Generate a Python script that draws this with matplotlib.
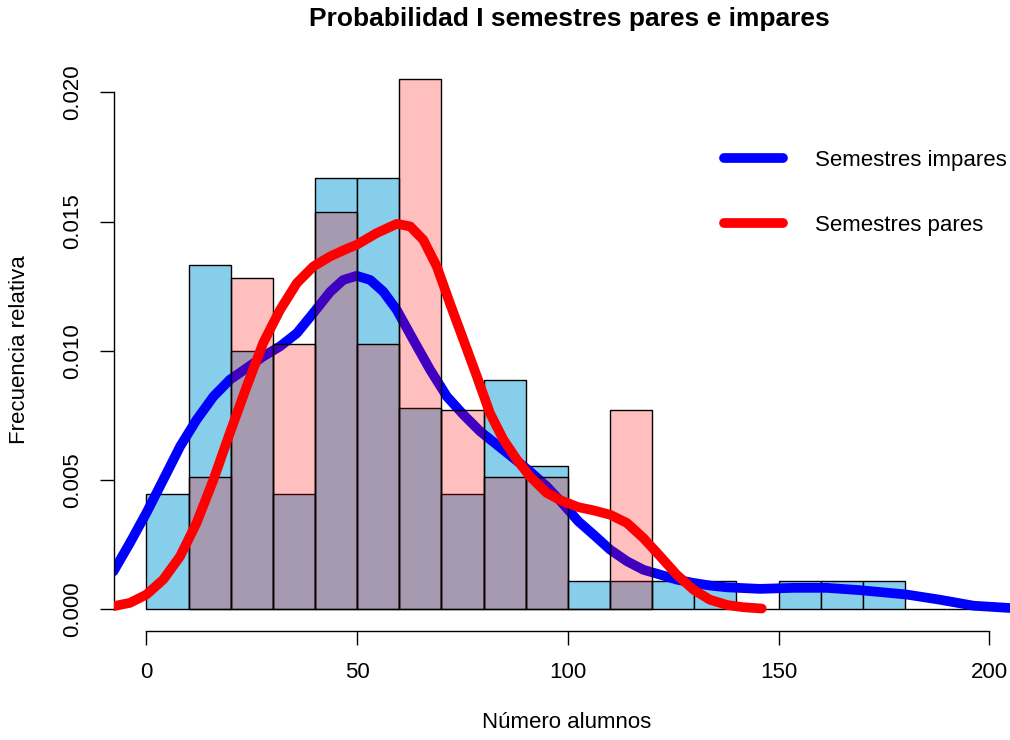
import matplotlib
matplotlib.use("Agg")
import matplotlib.pyplot as plt
from matplotlib.ticker import FormatStrFormatter

plt.rcParams['font.family'] = ['Liberation Sans', 'DejaVu Sans']

# histogram counts (bins of 10 students)
breaks_impares = list(range(0, 201, 10))
counts_impares = [4, 12, 9, 4, 15, 15, 7, 4, 8, 5, 1, 1, 1, 1, 0, 1, 1, 1, 0, 0]
breaks_pares = list(range(10, 121, 10))
counts_pares = [2, 5, 4, 6, 4, 8, 3, 2, 2, 0, 3]

# density curves
dens_impares_x = [-7.8, -3.9, 0, 4.0, 8.0, 11.9, 15.9, 19.8, 23.8, 27.7, 31.7, 35.7,
                  39.6, 43.6, 46.7, 49.9, 53.1, 56.2, 59.4, 63.3, 67.3, 71.3, 75.2,
                  79.2, 83.1, 87.1, 91.0, 95.0, 98.5, 102.5, 106.0, 110.0, 114.0,
                  117.9, 121.9, 125.8, 129.8, 133.7, 137.7, 145.6, 153.5, 161.4,
                  169.3, 180.4, 188.3, 196.2, 204.9]
dens_impares_y = [1.47, 2.57, 3.73, 5.01, 6.30, 7.33, 8.23, 8.88, 9.33, 9.78, 10.17,
                  10.68, 11.46, 12.28, 12.74, 12.90, 12.74, 12.29, 11.58, 10.43, 9.27,
                  8.23, 7.53, 6.88, 6.37, 5.85, 5.33, 4.75, 4.14, 3.40, 2.90, 2.31,
                  1.86, 1.53, 1.34, 1.15, 1.02, 0.92, 0.85, 0.79, 0.83, 0.83, 0.74,
                  0.57, 0.37, 0.14, 0.05]
dens_pares_x = [-7.8, -3.9, 0, 4.0, 8.0, 11.9, 15.9, 19.8, 23.8, 27.7, 31.7, 35.7,
                39.6, 43.6, 47.9, 49.9, 54.6, 59.4, 62.6, 65.7, 68.9, 72.0, 75.2,
                78.4, 81.5, 84.7, 87.9, 91.0, 95.0, 98.5, 102.5, 106.0, 110.0,
                114.0, 117.9, 121.9, 125.8, 129.8, 133.7, 137.7, 141.6, 146.0]
dens_pares_y = [0.12, 0.25, 0.57, 1.15, 2.05, 3.34, 5.01, 6.82, 8.62, 10.30, 11.58,
                12.62, 13.26, 13.65, 13.97, 14.10, 14.55, 14.91, 14.81, 14.29, 13.26,
                11.84, 10.43, 9.01, 7.59, 6.56, 5.79, 5.14, 4.50, 4.20, 3.95, 3.83,
                3.66, 3.34, 2.76, 2.05, 1.34, 0.76, 0.37, 0.17, 0.08, 0.03]
dens_impares_y = [v / 1000 for v in dens_impares_y]
dens_pares_y = [v / 1000 for v in dens_pares_y]

x_ticks = [0, 50, 100, 150, 200]
y_ticks = [0.0, 0.005, 0.010, 0.015, 0.020]

W, H = 1010, 740
fig = plt.figure(figsize=(W / 100, H / 100), dpi=100)
left, right, top, bottom = 113.7, 1010, 57.8, 630.5
ax = fig.add_axes([left / W, 1 - bottom / H, (right - left) / W, (bottom - top) / H])

ax.hist(breaks_impares[:-1], bins=breaks_impares, weights=counts_impares, density=True,
        color='#87CEEB', edgecolor='black', linewidth=1.0, zorder=1)
ax.plot(dens_impares_x, dens_impares_y, color='blue', lw=7, solid_capstyle='round',
        solid_joinstyle='round', zorder=2, label='Semestres impares')
ax.hist(breaks_pares[:-1], bins=breaks_pares, weights=counts_pares, density=True,
        color=(1, 0, 0, 0.25), edgecolor='black', linewidth=1.0, zorder=3)
ax.plot(dens_pares_x, dens_pares_y, color='red', lw=7, solid_capstyle='round',
        solid_joinstyle='round', zorder=4, label='Semestres pares')

ax.set_xlim(-7.76, 204.9)
ax.set_ylim(-0.00082, 0.021333)

for s in ['top', 'right']:
    ax.spines[s].set_visible(False)
ax.spines['left'].set_bounds(0, 0.02)
ax.spines['bottom'].set_bounds(0, 200)
for s in ['left', 'bottom']:
    ax.spines[s].set_linewidth(1.0)

ax.set_xticks(x_ticks)
ax.set_yticks(y_ticks)
ax.yaxis.set_major_formatter(FormatStrFormatter('%.3f'))
ax.tick_params(axis='both', length=9.9, width=1.0, labelsize=16, direction='out')
ax.tick_params(axis='x', pad=13)
ax.tick_params(axis='y', pad=12, labelrotation=90)
for t in ax.get_yticklabels():
    t.set_va('center')

leg = ax.legend(loc='upper left', bbox_to_anchor=(724 / W, 1 - 150 / H),
                bbox_transform=fig.transFigure, frameon=False, fontsize=16,
                handlelength=2.65, handletextpad=1.45, labelspacing=1.98,
                borderpad=0, borderaxespad=0)

fig.text(569 / W, 1 - 19 / H, 'Probabilidad I semestres pares e impares',
         ha='center', va='center', fontsize=19, fontweight='bold')
fig.text(567 / W, 1 - 722 / H, 'Número alumnos', ha='center', va='center', fontsize=16)
fig.text(20 / W, 1 - 350 / H, 'Frecuencia relativa', ha='center', va='center',
         rotation=90, fontsize=16)

fig.savefig('out.png', dpi=100)
